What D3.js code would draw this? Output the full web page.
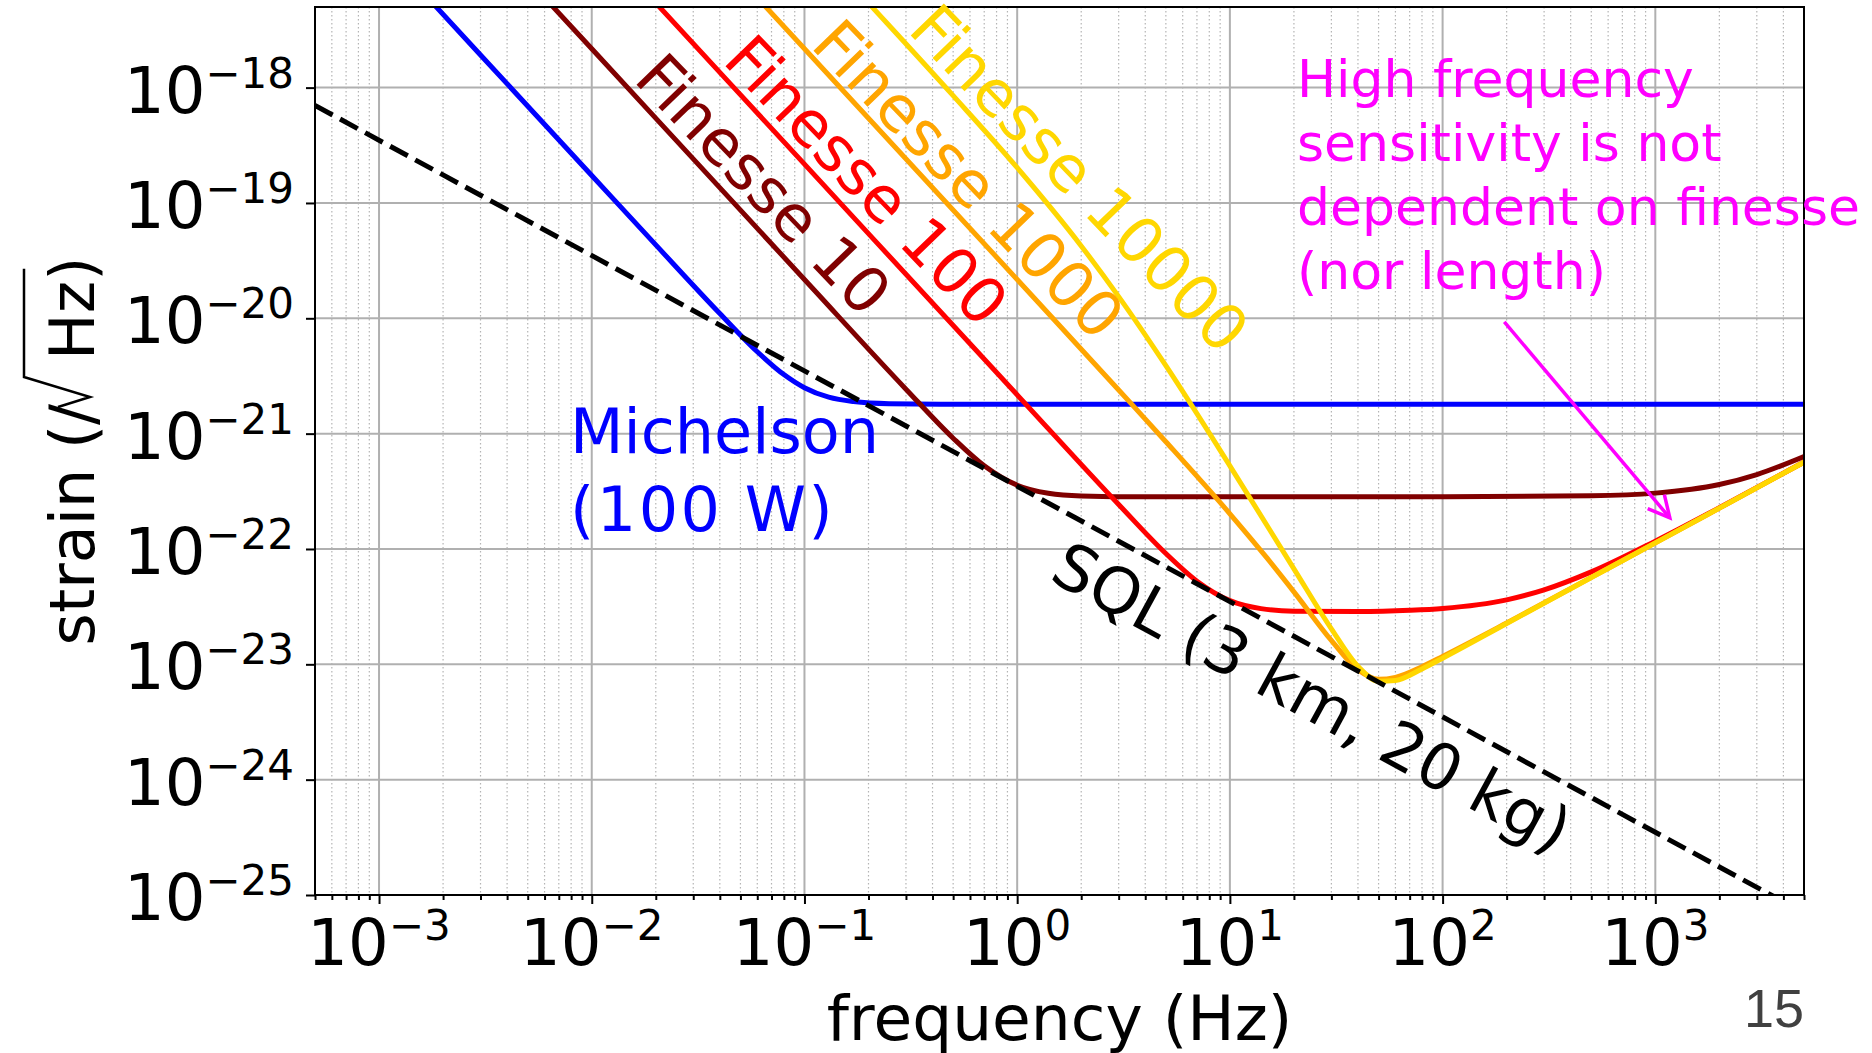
<!DOCTYPE html>
<html>
<head>
<meta charset="utf-8">
<script src="https://cdn.jsdelivr.net/npm/d3@7"></script>
<style>
  body { margin: 0; background: #fff; }
  svg { display: block; font-family: "DejaVu Sans", sans-serif; }
</style>
</head>
<body>
<svg id="chart" width="1872" height="1053"></svg>
<script>

// ---- data: [frequency (Hz), strain (/rtHz)] ----
const sqlLine = [[5e-4, 7.0e-19], [5e3, 7.0e-26]];

const michelson = [
  [1e-3, 1.73e-17], [3e-3, 1.92e-18], [1e-2, 1.73e-19], [2e-2, 4.33e-20],
  [4e-2, 1.10e-20], [6e-2, 5.13e-21], [8e-2, 3.25e-21], [0.1, 2.50e-21],
  [0.13, 2.07e-21], [0.17, 1.90e-21], [0.25, 1.82e-21], [0.5, 1.80e-21],
  [5e3, 1.80e-21]
];

const finesse10 = [
  [3e-3, 2.41e-17], [1e-2, 2.17e-18], [0.1, 2.17e-20], [0.3, 2.43e-21],
  [0.5, 9.13e-22], [0.7, 5.26e-22], [1, 3.57e-22], [1.4, 3.04e-22],
  [2, 2.88e-22], [4, 2.83e-22], [100, 2.83e-22], [500, 2.89e-22],
  [1000, 3.05e-22], [2000, 3.62e-22], [3000, 4.42e-22], [5000, 6.33e-22]
];

const finesse100 = [
  [1e-2, 2.17e-17], [0.1, 2.17e-19], [1, 2.17e-21], [3, 2.43e-22],
  [5, 9.13e-23], [7, 5.26e-23], [10, 3.57e-23], [14, 3.04e-23],
  [20, 2.89e-23], [40, 2.87e-23], [70, 2.94e-23], [100, 3.05e-23],
  [200, 3.62e-23], [300, 4.42e-23], [500, 6.33e-23], [1000, 1.17e-22],
  [2000, 2.28e-22], [5000, 5.67e-22]
];

const finesse1000 = [
  [0.03, 2.41e-17], [0.1, 2.17e-18], [1, 2.17e-20], [3, 2.39e-21],
  [5, 8.51e-22], [10, 2.02e-22], [15, 8.28e-23], [20, 4.25e-23],
  [30, 1.61e-23], [40, 8.96e-24], [50, 7.42e-24], [60, 7.71e-24],
  [80, 9.54e-24], [100, 1.17e-23], [200, 2.28e-23], [500, 5.67e-23],
  [1000, 1.13e-22], [2000, 2.26e-22], [5000, 5.66e-22]
];

const finesse10000 = [
  [0.1, 2.17e-17], [0.2, 5.41e-18], [0.5, 8.51e-19], [1, 2.02e-19],
  [2, 4.24e-20], [3, 1.54e-20], [5, 3.88e-21], [10, 5.26e-22],
  [20, 6.73e-23], [30, 2.03e-23], [40, 9.60e-24], [50, 7.14e-24],
  [60, 7.25e-24], [80, 9.12e-24], [100, 1.13e-23], [200, 2.26e-23],
  [500, 5.66e-23], [1000, 1.13e-22], [2000, 2.26e-22], [5000, 5.66e-22]
];

const freqTicks = [1e-3, 1e-2, 1e-1, 1e0, 1e1, 1e2, 1e3];
const freqExps = [-3, -2, -1, 0, 1, 2, 3];
const strainTicks = [1e-25, 1e-24, 1e-23, 1e-22, 1e-21, 1e-20, 1e-19, 1e-18];
const strainExps = [-25, -24, -23, -22, -21, -20, -19, -18];

// arrow of the magenta note, in data units
const noteArrow = [[195, 9.3e-21], [1170, 1.86e-22]];

// ---- layout ----
const margin = {top: 7, right: 68, bottom: 158, left: 315};
const width = 1872;
const height = 1053;
const innerWidth = width - margin.left - margin.right;
const innerHeight = height - margin.top - margin.bottom;

const svg = d3.select("#chart");
svg.append("rect").attr("width", width).attr("height", height).attr("fill", "#fff");

const innerChart = svg
  .append("g")
    .attr("transform", `translate(${margin.left},${margin.top})`);

const xScale = d3.scaleLog().domain([5e-4, 5e3]).range([0, innerWidth]);
const yScale = d3.scaleLog().domain([1e-25, 5e-18]).range([innerHeight, 0]);

// minor x positions 2..9 x 10^n
const freqMinor = [];
for (let n = -4; n <= 3; n++) {
  for (let k = 2; k <= 9; k++) {
    const v = k * Math.pow(10, n);
    if (v >= 5e-4 && v <= 5e3) freqMinor.push(v);
  }
}

// ---- grid ----
innerChart.append("g")
  .selectAll("line")
  .data(freqMinor)
  .join("line")
    .attr("x1", d => xScale(d))
    .attr("x2", d => xScale(d))
    .attr("y1", 0)
    .attr("y2", innerHeight)
    .attr("stroke", "#b4b4b4")
    .attr("stroke-width", 1.2)
    .attr("stroke-dasharray", "1.5 2.5");

innerChart.append("g")
  .selectAll("line")
  .data(freqTicks)
  .join("line")
    .attr("x1", d => xScale(d))
    .attr("x2", d => xScale(d))
    .attr("y1", 0)
    .attr("y2", innerHeight)
    .attr("stroke", "#b0b0b0")
    .attr("stroke-width", 2);

innerChart.append("g")
  .selectAll("line")
  .data(strainTicks)
  .join("line")
    .attr("x1", 0)
    .attr("x2", innerWidth)
    .attr("y1", d => yScale(d))
    .attr("y2", d => yScale(d))
    .attr("stroke", "#b0b0b0")
    .attr("stroke-width", 2);

// ---- curves ----
svg.append("defs")
  .append("clipPath")
    .attr("id", "plot-clip")
  .append("rect")
    .attr("width", innerWidth)
    .attr("height", innerHeight);

const lineGenerator = d3.line()
  .x(d => xScale(d[0]))
  .y(d => yScale(d[1]))
  .curve(d3.curveMonotoneX);

const curves = innerChart.append("g").attr("clip-path", "url(#plot-clip)");

const seriesInfo = [
  {id: "michelson", data: michelson, color: "#0000ff"},
  {id: "f10", data: finesse10, color: "#800000"},
  {id: "f100", data: finesse100, color: "#ff0000"},
  {id: "f1000", data: finesse1000, color: "#ffa500"},
  {id: "f10000", data: finesse10000, color: "#ffd700"}
];

seriesInfo.forEach(s => {
  curves.append("path")
    .attr("class", `curve-${s.id}`)
    .attr("d", lineGenerator(s.data))
    .attr("fill", "none")
    .attr("stroke", s.color)
    .attr("stroke-width", 5)
    .attr("stroke-linejoin", "round");
});

curves.append("path")
  .attr("d", d3.line().x(d => xScale(d[0])).y(d => yScale(d[1]))(sqlLine))
  .attr("fill", "none")
  .attr("stroke", "#000")
  .attr("stroke-width", 5)
  .attr("stroke-dasharray", "20 8.5");

// ---- axes ----
const xAxis = d3.axisBottom(xScale).tickValues(freqTicks).tickSize(9).tickSizeOuter(0).tickFormat("");
const xAxisMinor = d3.axisBottom(xScale).tickValues(freqMinor).tickSize(5).tickSizeOuter(0).tickFormat("");
const yAxis = d3.axisLeft(yScale).tickValues(strainTicks).tickSize(9).tickSizeOuter(0).tickFormat("");

innerChart.append("g")
    .attr("transform", `translate(0,${innerHeight})`)
    .call(xAxis);
innerChart.append("g")
    .attr("transform", `translate(0,${innerHeight})`)
    .call(xAxisMinor);
innerChart.append("g")
    .call(yAxis);

innerChart.selectAll(".domain").remove();
innerChart.selectAll(".tick line")
  .attr("stroke", "#000")
  .attr("stroke-width", 2);

innerChart.append("rect")
  .attr("width", innerWidth)
  .attr("height", innerHeight)
  .attr("fill", "none")
  .attr("stroke", "#000")
  .attr("stroke-width", 2);

const expText = e => (e < 0 ? "\u2212" + (-e) : String(e));

freqTicks.forEach((t, i) => {
  const label = innerChart
    .append("text")
      .attr("x", xScale(t))
      .attr("y", innerHeight + 70)
      .attr("text-anchor", "middle")
      .style("font-size", "64px")
      .style("fill", "#000");
  label.append("tspan").text("10");
  label.append("tspan")
    .attr("dy", -25)
    .style("font-size", "42px")
    .text(expText(freqExps[i]));
});

strainTicks.forEach((t, i) => {
  const label = innerChart
    .append("text")
      .attr("x", -21)
      .attr("y", yScale(t) + 25)
      .attr("text-anchor", "end")
      .style("font-size", "64px")
      .style("fill", "#000");
  label.append("tspan").text("10");
  label.append("tspan")
    .attr("dy", -25)
    .style("font-size", "42px")
    .text(expText(strainExps[i]));
});

// ---- axis titles ----
svg.append("text")
  .attr("x", margin.left + innerWidth / 2)
  .attr("y", 1040)
  .attr("text-anchor", "middle")
  .style("font-size", "63px")
  .style("fill", "#000")
  .text("frequency (Hz)");

const yTitle = svg
  .append("g")
    .attr("transform", "translate(94,451) rotate(-90)");
const yTitleText = yTitle
  .append("text")
    .style("font-size", "62px")
    .style("fill", "#000");
yTitleText.append("tspan").text("strain (/");
yTitleText.append("tspan").attr("dx", 44).text("Hz");
yTitleText.append("tspan").text(")");
const yBox = yTitleText.node().getBBox();
yTitleText.attr("x", -(yBox.x + yBox.width / 2));
const tNode = yTitleText.node();
const hStart = tNode.getStartPositionOfChar(9).x;
const zEnd = tNode.getEndPositionOfChar(10).x;
yTitle.append("path")
  .attr("d", `M${hStart - 47},-36 L${hStart - 37},-4 L${hStart - 17},-70 L${zEnd + 12},-70`)
  .attr("fill", "none")
  .attr("stroke", "#000")
  .attr("stroke-width", 2.5)
  .attr("stroke-linejoin", "miter");

// ---- annotations ----
const finesseLabels = [
  {text: "Finesse 10", x: 764, y: 184, color: "#800000"},
  {text: "Finesse 100", x: 867, y: 180, color: "#ff0000"},
  {text: "Finesse 1000", x: 969, y: 179, color: "#ffa500"},
  {text: "Finesse 10000", x: 1080, y: 178, color: "#ffd700"}
];
finesseLabels.forEach(l => {
  svg.append("text")
    .attr("transform", `translate(${l.x},${l.y}) rotate(46)`)
    .attr("text-anchor", "middle")
    .attr("dy", "0.36em")
    .style("font-size", "63px")
    .style("fill", l.color)
    .text(l.text);
});

svg.append("text")
  .attr("transform", "translate(1311,699) rotate(28.5)")
  .attr("text-anchor", "middle")
  .attr("dy", "0.32em")
  .style("font-size", "64px")
  .style("fill", "#000")
  .text("SQL (3 km, 20 kg)");

const michelsonLabel = svg
  .append("text")
    .style("font-size", "62px")
    .style("fill", "#0000ff");
michelsonLabel.append("tspan").attr("x", 570).attr("y", 453).text("Michelson");
michelsonLabel.append("tspan")
  .attr("x", 570)
  .attr("y", 531)
  .style("letter-spacing", "2.5px")
  .text("(100 W)");

const noteLines = ["High frequency", "sensitivity is not", "dependent on finesse", "(nor length)"];
const note = svg
  .append("text")
    .style("font-size", "52px")
    .style("fill", "#ff00ff");
noteLines.forEach((line, i) => {
  note.append("tspan")
    .attr("x", 1297)
    .attr("y", 97 + i * 64)
    .text(line);
});

// magenta arrow
const [ax0, ay0] = [xScale(noteArrow[0][0]), yScale(noteArrow[0][1])];
const [ax1, ay1] = [xScale(noteArrow[1][0]), yScale(noteArrow[1][1])];
const angle = Math.atan2(ay1 - ay0, ax1 - ax0);
const barb = 24;
const spread = 27 * Math.PI / 180;
const arrow = innerChart.append("g")
  .attr("stroke", "#ff00ff")
  .attr("stroke-width", 3.5)
  .attr("fill", "none")
  .attr("stroke-linecap", "butt");
arrow.append("line")
  .attr("x1", ax0).attr("y1", ay0)
  .attr("x2", ax1).attr("y2", ay1);
arrow.append("path")
  .attr("d", `M${ax1 - barb * Math.cos(angle - spread)},${ay1 - barb * Math.sin(angle - spread)}
              L${ax1},${ay1}
              L${ax1 - barb * Math.cos(angle + spread)},${ay1 - barb * Math.sin(angle + spread)}`)
  .attr("stroke-linejoin", "miter");

// slide number
svg.append("text")
  .attr("x", 1804)
  .attr("y", 1027)
  .attr("text-anchor", "end")
  .style("font-family", "'Liberation Sans', Arial, sans-serif")
  .style("font-size", "54px")
  .style("fill", "#404040")
  .text("15");

</script>
</body>
</html>
